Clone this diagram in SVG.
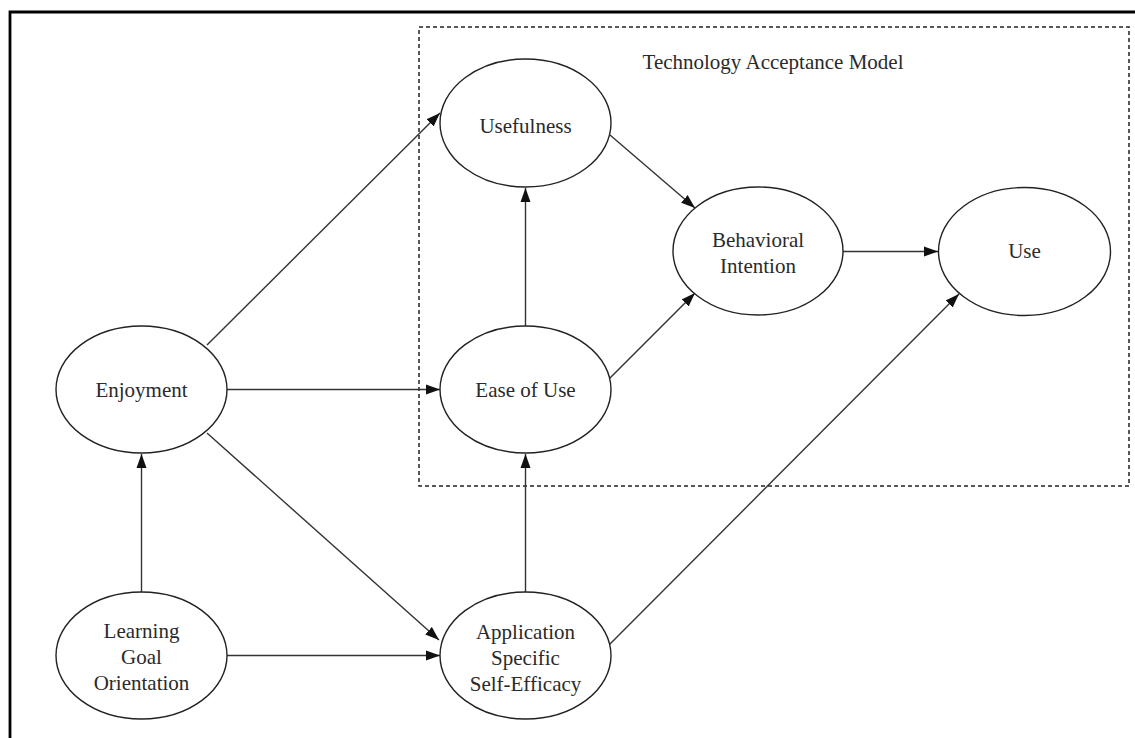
<svg xmlns="http://www.w3.org/2000/svg" width="1135" height="738" viewBox="0 0 1135 738">
<style>
.node ellipse{fill:#fff;stroke:#222;stroke-width:1.4}
.node text,.title{font-family:"Liberation Serif","Times New Roman",serif;font-size:21px;fill:#2a2a2a;text-anchor:middle}
.edge{stroke:#333;stroke-width:1.4;fill:none;marker-end:url(#arr)}
</style>
<defs>
<marker id="arr" markerUnits="userSpaceOnUse" markerWidth="16" markerHeight="12" refX="14" refY="5.5" orient="auto">
<path d="M0,0.5 L14,5.5 L0,10.5 z" fill="#111"/>
</marker>
</defs>
<rect width="1135" height="738" fill="#fff"/>
<path d="M10,738 V12 H1135" fill="none" stroke="#000" stroke-width="2.8"/>
<rect id="tam-box" x="419" y="27" width="710" height="459" fill="none" stroke="#222" stroke-width="1.5" stroke-dasharray="4 3"/>
<text class="title" x="773" y="69">Technology Acceptance Model</text>
<g id="connectors">
<line class="edge" x1="141.5" y1="592" x2="141.5" y2="454"/>
<line class="edge" x1="227" y1="655.5" x2="440" y2="655.5"/>
<line class="edge" x1="207" y1="433" x2="439" y2="640"/>
<line class="edge" x1="207" y1="345" x2="440" y2="113"/>
<line class="edge" x1="227" y1="389.5" x2="440" y2="389.5"/>
<line class="edge" x1="525.5" y1="326" x2="525.5" y2="188"/>
<line class="edge" x1="525.5" y1="592" x2="525.5" y2="454"/>
<line class="edge" x1="609" y1="379" x2="695" y2="293"/>
<line class="edge" x1="610" y1="135" x2="695" y2="208"/>
<line class="edge" x1="843" y1="251.5" x2="938" y2="251.5"/>
<line class="edge" x1="609" y1="645" x2="959" y2="294"/>
</g>
<g id="usefulness" class="node"><ellipse cx="525.5" cy="123" rx="85.5" ry="64"/><text x="525.5" y="133">Usefulness</text></g>
<g id="behavioral-intention" class="node"><ellipse cx="758" cy="251" rx="85" ry="64"/><text x="758" y="247">Behavioral</text><text x="758" y="273">Intention</text></g>
<g id="use" class="node"><ellipse cx="1024.5" cy="251.5" rx="86" ry="64"/><text x="1024.5" y="258">Use</text></g>
<g id="ease-of-use" class="node"><ellipse cx="525.5" cy="389.5" rx="85.5" ry="63.5"/><text x="525.5" y="397">Ease of Use</text></g>
<g id="enjoyment" class="node"><ellipse cx="141.5" cy="389.5" rx="85.5" ry="63.5"/><text x="141.5" y="397">Enjoyment</text></g>
<g id="learning-goal-orientation" class="node"><ellipse cx="141.5" cy="655.5" rx="85.5" ry="63.5"/><text x="141.5" y="638">Learning</text><text x="141.5" y="664">Goal</text><text x="141.5" y="690">Orientation</text></g>
<g id="application-self-efficacy" class="node"><ellipse cx="525.5" cy="655.5" rx="85.5" ry="63.5"/><text x="525.5" y="639">Application</text><text x="525.5" y="665">Specific</text><text x="525.5" y="691">Self-Efficacy</text></g>
</svg>
